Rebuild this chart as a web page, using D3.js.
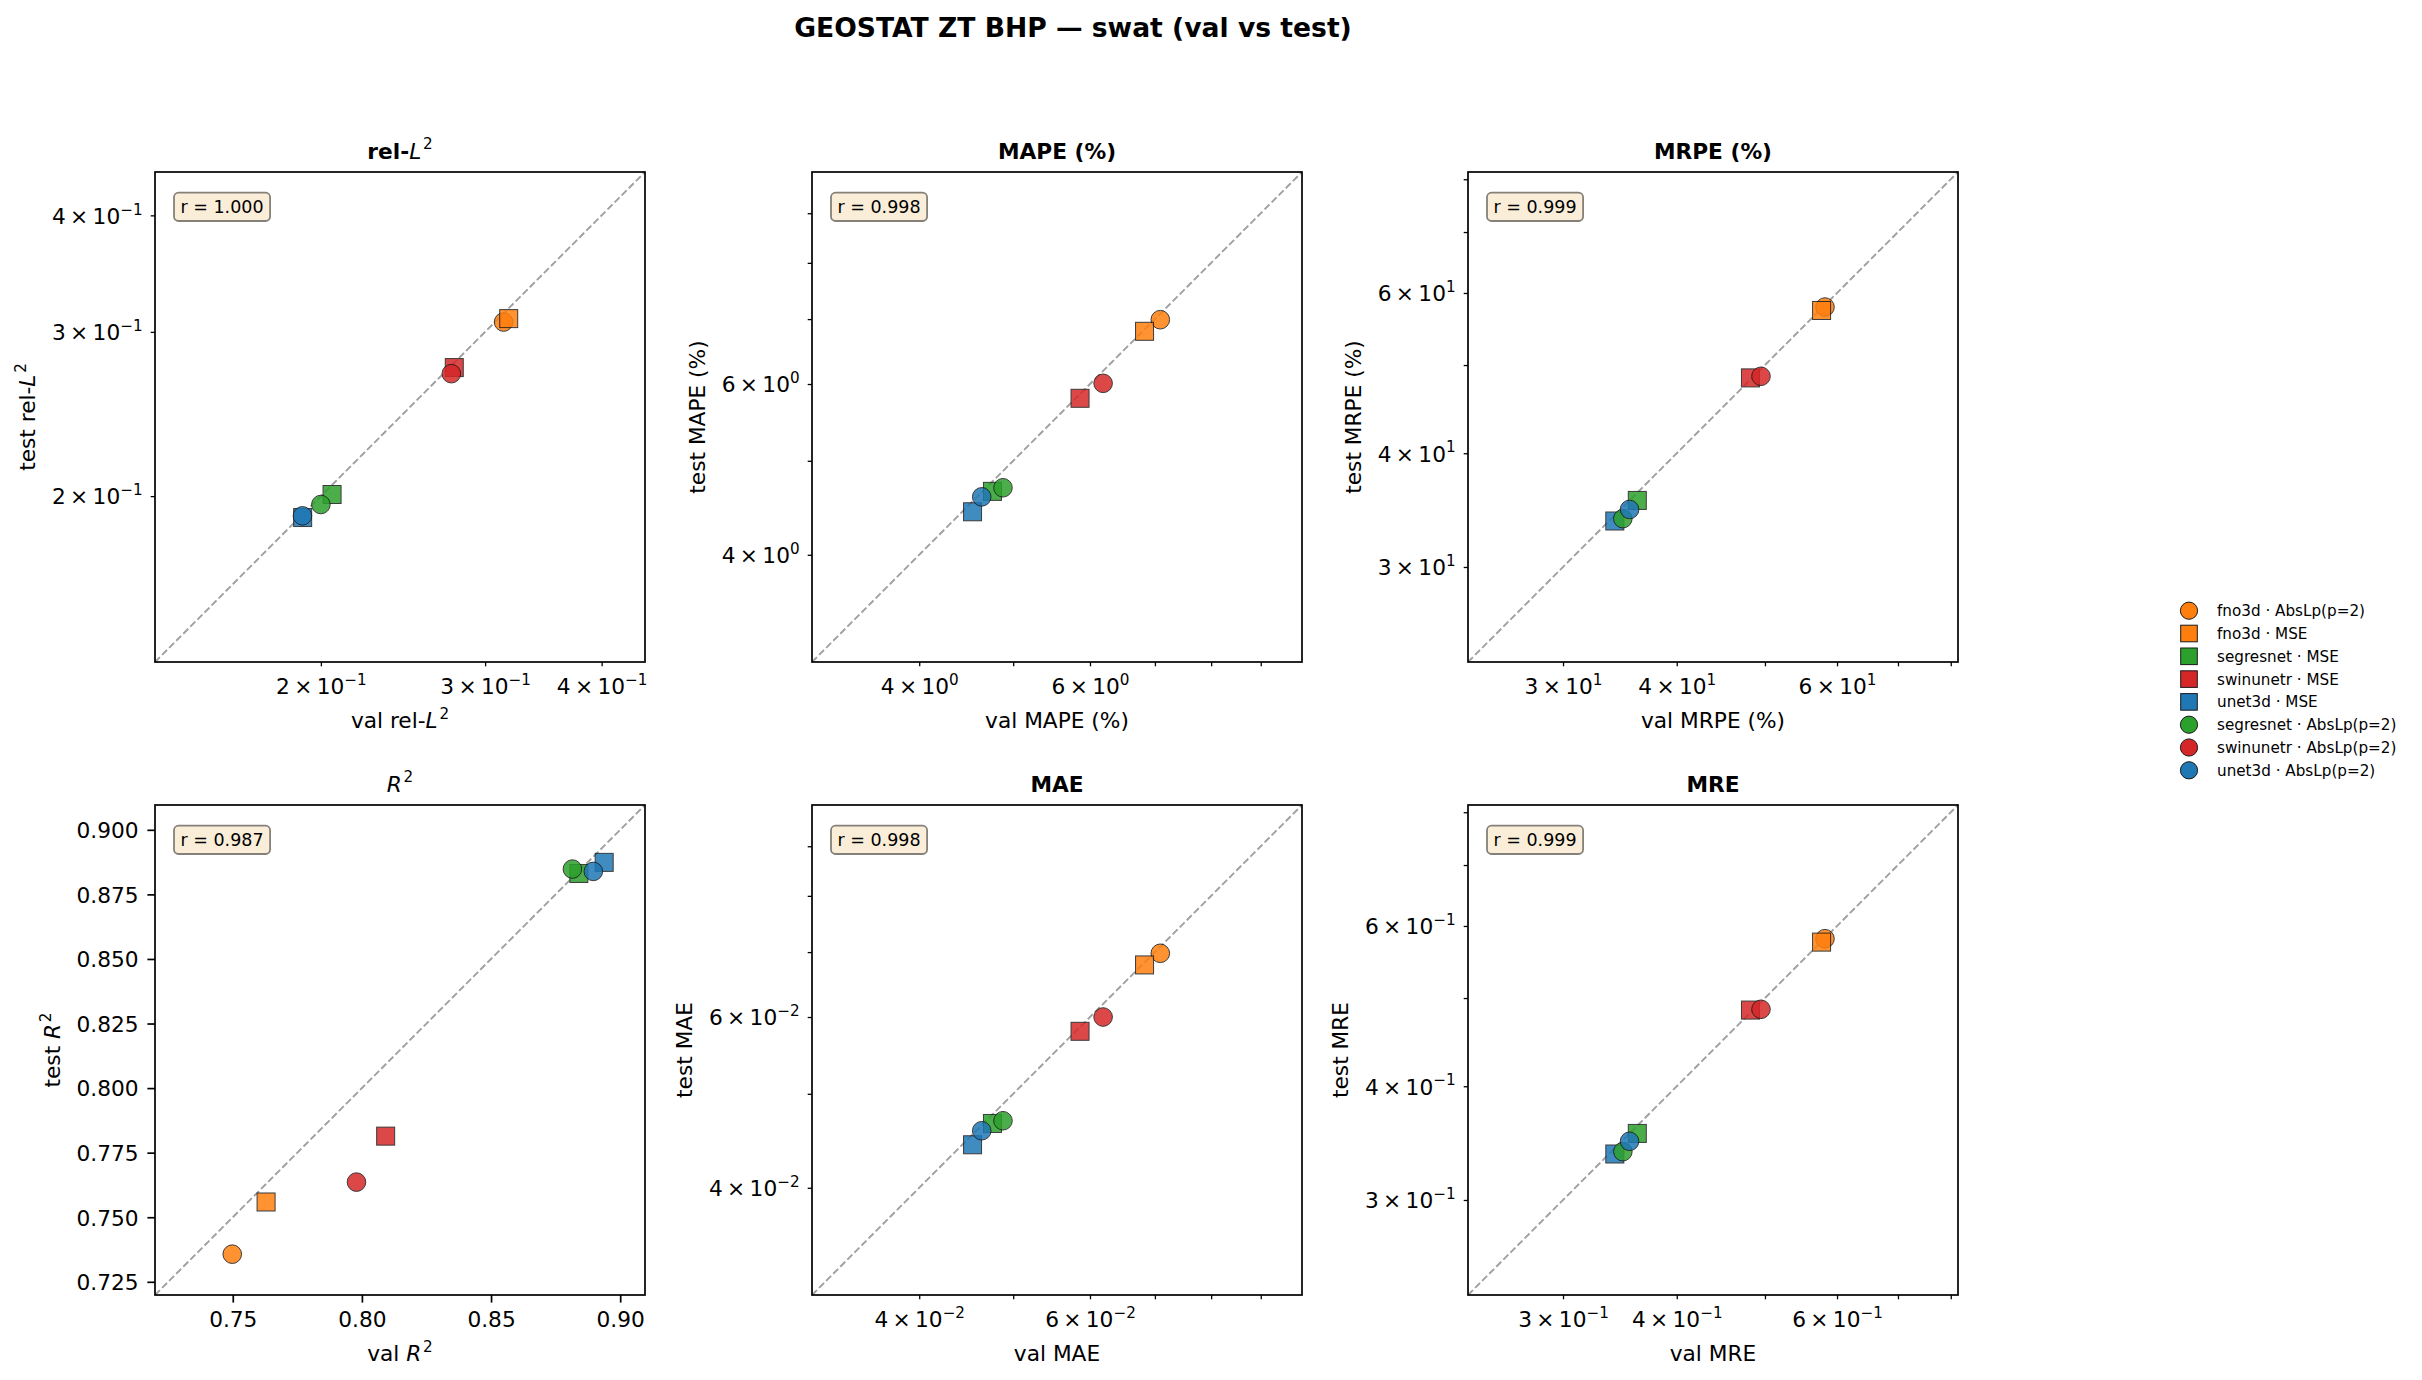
<!DOCTYPE html>
<html lang="en">
<head>
<meta charset="utf-8">
<style>
  body { margin: 0; background: #fff; }
  text { font-family: "DejaVu Sans", sans-serif; fill: #000; }
</style>
</head>
<body>
<div id="chart"></div>
<script src="https://cdn.jsdelivr.net/npm/d3@7"></script>
<script>

// Series (legend order = draw order)
var seriesNames  = ["fno3d · AbsLp(p=2)", "fno3d · MSE", "segresnet · MSE", "swinunetr · MSE",
                    "unet3d · MSE", "segresnet · AbsLp(p=2)", "swinunetr · AbsLp(p=2)", "unet3d · AbsLp(p=2)"];
var seriesColors = ["#ff7f0e", "#ff7f0e", "#2ca02c", "#d62728", "#1f77b4", "#2ca02c", "#d62728", "#1f77b4"];
var seriesShapes = ["circle", "square", "square", "square", "square", "circle", "circle", "circle"];

// Panels
var metricTitles = ["rel-$L^2$", "MAPE (%)", "MRPE (%)", "$R^2$", "MAE", "MRE"];
var metricLog    = [true, true, true, false, true, true];
var corrText     = ["r = 1.000", "r = 0.998", "r = 0.999", "r = 0.987", "r = 0.998", "r = 0.999"];

// values, one entry per series
var valRelL2  = [0.314, 0.318, 0.2056, 0.278, 0.1912, 0.200, 0.276, 0.1911];
var testRelL2 = [0.3074, 0.310, 0.2008, 0.2747, 0.1897, 0.1959, 0.2706, 0.1905];
var valMAPE   = [7.09, 6.83, 4.76, 5.86, 4.54, 4.88, 6.19, 4.64];
var testMAPE  = [6.99, 6.80, 4.65, 5.80, 4.43, 4.69, 6.01, 4.59];
var valMRPE   = [58.2, 57.7, 36.2, 48.2, 34.2, 34.9, 49.5, 35.5];
var testMRPE  = [57.9, 57.4, 35.5, 48.4, 33.7, 33.9, 48.6, 34.7];
var valR2     = [0.7498, 0.7629, 0.8840, 0.8092, 0.8938, 0.8815, 0.7979, 0.8896];
var testR2    = [0.7357, 0.7559, 0.8831, 0.7814, 0.8874, 0.8848, 0.7636, 0.8839];
var valMAE    = [0.0709, 0.0683, 0.0476, 0.0586, 0.0454, 0.0488, 0.0619, 0.0464];
var testMAE   = [0.0698, 0.0679, 0.0466, 0.0580, 0.0443, 0.0469, 0.0600, 0.0458];
var valMRE    = [0.582, 0.577, 0.362, 0.482, 0.342, 0.349, 0.495, 0.355];
var testMRE   = [0.581, 0.576, 0.355, 0.485, 0.337, 0.339, 0.486, 0.348];

// R^2 panel is linear, its ticks
var r2XTicks = [0.75, 0.80, 0.85, 0.90];
var r2YTicks = [0.725, 0.750, 0.775, 0.800, 0.825, 0.850, 0.875, 0.900];

var valData  = [valRelL2, valMAPE, valMRPE, valR2, valMAE, valMRE];
var testData = [testRelL2, testMAPE, testMRPE, testR2, testMAE, testMRE];

var W = 2422, H = 1380;
var size = 490;
var colX = [155, 812, 1468], rowY = [172, 805];
var fsTick = 21.7, fsTitle = 21.7, fsBox = 17.5, fsLegend = 15.2;

var svg = d3.select("#chart").append("svg")
    .attr("width", W).attr("height", H)
    .style("background", "#fff");

svg.append("text")
    .attr("x", 1073).attr("y", 37)
    .attr("text-anchor", "middle")
    .attr("font-weight", "bold")
    .attr("font-size", 26.6)
    .text("GEOSTAT ZT BHP \u2014 swat (val vs test)");

// text with $X^2$ bits -> tspans (math part italic, not bold)
function richText(sel, str, fs, bold) {
  str.split("$").forEach(function(p, i) {
    if (!p) return;
    if (i % 2 === 0) {
      sel.append("tspan").attr("font-weight", bold ? "bold" : "normal").text(p);
    } else {
      var m = p.split("^");
      sel.append("tspan").attr("font-style", "italic").attr("font-weight", "normal").text(m[0]);
      if (m[1]) sel.append("tspan").attr("font-weight", "normal")
          .attr("font-size", 0.7 * fs).attr("dx", 0.08 * fs).attr("dy", -0.42 * fs).text(m[1]);
    }
  });
}

function sciLabel(sel, m, e, fs) {
  sel.text(null);
  sel.append("tspan").text(m === 1 ? "10" : m + "\u2009\u00d7\u200910");
  sel.append("tspan").attr("font-size", 0.7 * fs).attr("dy", -0.42 * fs)
     .text(e < 0 ? "\u2212" + (-e) : String(e));
}

// matplotlib-like log ticks for less than ~1 decade
function logTicks(lo, hi) {
  var out = [];
  var numdec = Math.log10(hi / lo);
  var sub = numdec > 0.4 ? [1, 2, 3, 4, 6] : [1, 2, 3, 4, 5, 6, 7, 8, 9];
  for (var e = Math.floor(Math.log10(lo)); e <= Math.ceil(Math.log10(hi)); e++) {
    for (var m = 1; m <= 9; m++) {
      var v = m * Math.pow(10, e);
      if (v >= lo && v <= hi) out.push({v: v, m: m, e: e, label: sub.indexOf(m) >= 0});
    }
  }
  return out;
}

function styleAxis(g) {
  g.attr("font-size", fsTick).attr("font-family", "DejaVu Sans").attr("color", "#000");
  g.select(".domain").remove();
}

metricTitles.forEach(function(title, k) {
  var x0 = colX[k % 3], y0 = rowY[Math.floor(k / 3)];
  var vals = valData[k], tests = testData[k];
  var all = vals.concat(tests);
  var lo, hi, x, y;
  if (metricLog[k]) {
    lo = d3.min(all) * 0.7; hi = d3.max(all) * 1.4;
    x = d3.scaleLog().domain([lo, hi]).range([x0, x0 + size]);
    y = d3.scaleLog().domain([lo, hi]).range([y0 + size, y0]);
  } else {
    var pad = (d3.max(all) - d3.min(all)) * 0.1;
    lo = d3.min(all) - pad; hi = d3.max(all) + pad;
    x = d3.scaleLinear().domain([lo, hi]).range([x0, x0 + size]);
    y = d3.scaleLinear().domain([lo, hi]).range([y0 + size, y0]);
  }

  var panel = svg.append("g");

  // axes
  var gx = panel.append("g").attr("transform", "translate(0," + (y0 + size) + ")");
  var gy = panel.append("g").attr("transform", "translate(" + x0 + ",0)");
  if (metricLog[k]) {
    var ticks = logTicks(lo, hi);
    [true, false].forEach(function(major) {
      var tk = ticks.filter(function(t) { return (t.m === 1) === major; });
      if (!tk.length) return;
      var len = major ? 7.6 : 4.3;
      var ax = d3.axisBottom(x).tickValues(tk.map(function(t) { return t.v; }))
          .tickSize(len).tickPadding(32 - len - 0.71 * fsTick).tickFormat(function() { return ""; });
      var ay = d3.axisLeft(y).tickValues(tk.map(function(t) { return t.v; }))
          .tickSize(len).tickPadding(12.4 - len).tickFormat(function() { return ""; });
      var sx = gx.append("g").call(ax); styleAxis(sx);
      var sy = gy.append("g").call(ay); styleAxis(sy);
      sx.selectAll(".tick line").attr("stroke-width", major ? 1.7 : 1.3);
      sy.selectAll(".tick line").attr("stroke-width", major ? 1.7 : 1.3);
      sx.selectAll(".tick text").each(function(d, i) {
        if (tk[i].label) sciLabel(d3.select(this), tk[i].m, tk[i].e, fsTick);
      });
      sy.selectAll(".tick text").attr("dy", "0.36em").each(function(d, i) {
        if (tk[i].label) sciLabel(d3.select(this), tk[i].m, tk[i].e, fsTick);
      });
    });
  } else {
    var axL = d3.axisBottom(x).tickValues(r2XTicks).tickSize(7.6)
        .tickPadding(32 - 7.6 - 0.71 * fsTick).tickFormat(d3.format(".2f"));
    var ayL = d3.axisLeft(y).tickValues(r2YTicks).tickSize(7.6)
        .tickPadding(8.8).tickFormat(d3.format(".3f"));
    gx.call(axL); styleAxis(gx);
    gy.call(ayL); styleAxis(gy);
    gx.selectAll(".tick line").attr("stroke-width", 1.7);
    gy.selectAll(".tick line").attr("stroke-width", 1.7);
    gy.selectAll(".tick text").attr("dy", "0.36em");
  }

  // axis labels
  var name = title;
  var xl = panel.append("text")
      .attr("x", x0 + size / 2).attr("y", y0 + size + 66)
      .attr("text-anchor", "middle").attr("font-size", fsTick);
  richText(xl, "val " + name, fsTick, false);

  var tb = gy.node().getBBox();
  var lx = x0 + tb.x - 16.5;
  var yl = panel.append("text")
      .attr("transform", "translate(" + lx + "," + (y0 + size / 2) + ") rotate(-90)")
      .attr("text-anchor", "middle").attr("font-size", fsTick);
  richText(yl, "test " + name, fsTick, false);

  // title
  var tt = panel.append("text")
      .attr("x", x0 + size / 2).attr("y", y0 - 13.5)
      .attr("text-anchor", "middle").attr("font-size", fsTitle);
  richText(tt, title, fsTitle, true);

  // diagonal
  panel.append("line")
      .attr("x1", x(lo)).attr("y1", y(lo)).attr("x2", x(hi)).attr("y2", y(hi))
      .attr("stroke", "#a0a0a0").attr("stroke-width", 1.9)
      .attr("stroke-dasharray", "7,3");

  // points
  vals.forEach(function(v, i) {
    var cx = x(v), cy = y(tests[i]);
    var mk;
    if (seriesShapes[i] === "circle") {
      mk = panel.append("circle").attr("cx", cx).attr("cy", cy).attr("r", 9.3);
    } else {
      mk = panel.append("rect").attr("x", cx - 9).attr("y", cy - 9).attr("width", 18).attr("height", 18);
    }
    mk.attr("fill", seriesColors[i]).attr("stroke", "#1a1a1a")
      .attr("stroke-width", 1).attr("opacity", 0.85);
  });

  // r box
  var bg = panel.append("g");
  var rt = bg.append("text")
      .attr("x", x0 + 25.5).attr("y", y0 + 41)
      .attr("font-size", fsBox).text(corrText[k]);
  var bb = rt.node().getBBox();
  bg.insert("rect", "text")
      .attr("x", bb.x - 6.5).attr("y", y0 + 20.7)
      .attr("width", bb.width + 13).attr("height", 28.3)
      .attr("rx", 4.5).attr("ry", 4.5)
      .attr("fill", "#faeed9").attr("stroke", "#85807a").attr("stroke-width", 1.8);

  // frame
  panel.append("rect")
      .attr("x", x0).attr("y", y0).attr("width", size).attr("height", size)
      .attr("fill", "none").attr("stroke", "#000").attr("stroke-width", 1.7);
});

// legend
var legend = svg.append("g").attr("transform", "translate(2189,610.7)");
seriesNames.forEach(function(nm, i) {
  var row = legend.append("g").attr("transform", "translate(0," + (i * 22.8) + ")");
  if (seriesShapes[i] === "circle") {
    row.append("circle").attr("r", 8.6);
  } else {
    row.append("rect").attr("x", -8.3).attr("y", -8.3).attr("width", 16.6).attr("height", 16.6);
  }
  row.selectAll("circle,rect").attr("fill", seriesColors[i]).attr("stroke", "#1a1a1a").attr("stroke-width", 1);
  row.append("text").attr("x", 28).attr("y", 5.5).attr("font-size", fsLegend).text(nm);
});

</script>
</body>
</html>
